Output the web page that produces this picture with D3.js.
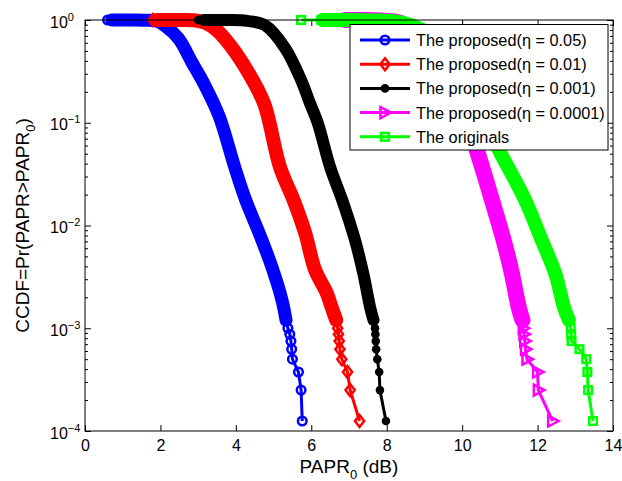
<!DOCTYPE html>
<html>
<head>
<meta charset="utf-8">
<script src="https://cdn.jsdelivr.net/npm/d3@7"></script>
<style>
body { margin: 0; background: #fff; }
svg { font-family: "Liberation Sans", Arial, sans-serif; }
</style>
</head>
<body>
<div id="chart"></div>
<script>
// axis ticks
const xTicks = [0, 2, 4, 6, 8, 10, 12, 14];
const yTicks = [1e-4, 1e-3, 1e-2, 1e-1, 1];
const yTickExp = ["\u22124", "\u22123", "\u22122", "\u22121", "0"];

// CCDF levels of the sparse tail (k / 8000, k = 8..1)
const tailP = [1e-3, 8.75e-4, 7.5e-4, 6.25e-4, 5e-4, 3.75e-4, 2.5e-4, 1.25e-4];

// eta = 0.05
const blueHeadX = [0.6], blueHeadP = [1];
const blueX = [0.71, 1.2, 1.6, 1.9, 2.12, 2.48, 2.83, 3.18, 3.56, 3.97, 4.26, 4.62, 4.95, 5.22, 5.33];
const blueP = [1, 1, 0.995, 0.975, 0.88, 0.66, 0.39, 0.23, 0.115, 0.037, 0.0177, 0.0084, 0.004, 0.0019, 0.0012];
const blueTailX = [5.38, 5.43, 5.46, 5.48, 5.50, 5.66, 5.73, 5.76];

// eta = 0.01
const redHeadX = [1.8], redHeadP = [1];
const redX = [1.9, 2.5, 3.0, 3.3, 3.54, 3.98, 4.42, 4.76, 5.17, 5.53, 5.84, 6.1, 6.41, 6.54, 6.66];
const redP = [1, 1, 0.98, 0.9, 0.77, 0.49, 0.27, 0.15, 0.037, 0.0177, 0.0084, 0.0037, 0.0022, 0.0016, 0.0012];
const redTailX = [6.70, 6.72, 6.74, 6.76, 6.81, 6.96, 7.03, 7.28];

// eta = 0.001
const blackHeadX = [3.0], blackHeadP = [1];
const blackX = [3.15, 3.8, 4.3, 4.77, 5.31, 5.75, 5.95, 6.17, 6.5, 6.82, 7.16, 7.38, 7.56, 7.65];
const blackP = [1, 1, 0.98, 0.89, 0.53, 0.25, 0.16, 0.1, 0.037, 0.0177, 0.0072, 0.0034, 0.0016, 0.0012];
const blackTailX = [7.69, 7.70, 7.71, 7.72, 7.75, 7.80, 7.82, 7.98];

// eta = 0.0001
const magentaHeadX = [6.8], magentaHeadP = [1];
const magentaX = [6.9, 7.5, 8.0, 8.4, 9.0, 9.5, 10.0, 10.39, 10.79, 11.1, 11.32, 11.5, 11.6];
const magentaP = [1, 1, 0.98, 0.93, 0.62, 0.33, 0.14, 0.054, 0.0177, 0.0072, 0.0034, 0.0016, 0.0012];
const magentaTailX = [11.62, 11.64, 11.66, 11.68, 11.72, 12.0, 12.02, 12.4];

// originals
const greenHeadX = [5.73, 6.27], greenHeadP = [1, 1];
const greenX = [6.3, 7.0, 7.7, 8.2, 8.6, 9.2, 9.8, 10.4, 10.98, 11.67, 12.11, 12.47, 12.7, 12.83];
const greenP = [1, 1, 0.99, 0.97, 0.9, 0.7, 0.4, 0.15, 0.054, 0.0177, 0.0072, 0.0034, 0.0016, 0.0012];
const greenTailX = [12.88, 12.89, 12.9, 13.11, 13.29, 13.32, 13.34, 13.47];

const seriesNames = ["The proposed(\u03b7 = 0.05)", "The proposed(\u03b7 = 0.01)",
    "The proposed(\u03b7 = 0.001)", "The proposed(\u03b7 = 0.0001)", "The originals"];

const series = [
    { color: "#0000ff", marker: "circle", band: 13, hx: blueHeadX, hp: blueHeadP, x: blueX, p: blueP, tx: blueTailX },
    { color: "#ff0000", marker: "diamond", band: 14, hx: redHeadX, hp: redHeadP, x: redX, p: redP, tx: redTailX },
    { color: "#000000", marker: "dot", band: 12, hx: blackHeadX, hp: blackHeadP, x: blackX, p: blackP, tx: blackTailX },
    { color: "#ff00ff", marker: "triangle", band: 16, hx: magentaHeadX, hp: magentaHeadP, x: magentaX, p: magentaP, tx: magentaTailX },
    { color: "#00ff00", marker: "square", band: 14, hx: greenHeadX, hp: greenHeadP, x: greenX, p: greenP, tx: greenTailX }
];
series.forEach((s, i) => s.name = seriesNames[i]);

const width = 622, height = 481;
const mLeft = 85, mRight = 613, mTop = 20, mBottom = 431;

const svg = d3.select("#chart").append("svg")
    .attr("width", width)
    .attr("height", height);

const x = d3.scaleLinear().domain([0, 14]).range([mLeft, mRight]);
const y = d3.scaleLog().domain([1e-4, 1]).range([mBottom, mTop]);

const minorTicks = y.ticks().filter(v => Math.abs(Math.log10(v) - Math.round(Math.log10(v))) > 1e-6);

function styleAxis(g) {
    g.select(".domain").remove();
    g.selectAll(".tick line").attr("stroke", "#000").attr("stroke-width", 1);
    g.selectAll("text").attr("fill", "#000");
}

// bottom axis with labels
svg.append("g")
    .attr("transform", `translate(0,${mBottom})`)
    .call(d3.axisBottom(x).tickValues(xTicks).tickSizeInner(-6).tickSizeOuter(0).tickPadding(9).tickFormat(d3.format("d")))
    .call(styleAxis)
    .selectAll("text").attr("font-size", 16);

// top axis, ticks only
svg.append("g")
    .attr("transform", `translate(0,${mTop})`)
    .call(d3.axisTop(x).tickValues(xTicks).tickSizeInner(-6).tickSizeOuter(0).tickFormat(""))
    .call(styleAxis);

// left / right, major and minor
[["left", mLeft], ["right", mRight]].forEach(([side, pos]) => {
    const mk = side == "left" ? d3.axisLeft : d3.axisRight;
    svg.append("g")
        .attr("transform", `translate(${pos},0)`)
        .call(mk(y).tickValues(minorTicks).tickSizeInner(-3).tickSizeOuter(0).tickFormat(""))
        .call(styleAxis);
    const major = svg.append("g")
        .attr("transform", `translate(${pos},0)`)
        .call(mk(y).tickValues(yTicks).tickSizeInner(-6).tickSizeOuter(0).tickFormat(""))
        .call(styleAxis);
    if (side == "left") {
        major.selectAll(".tick").each(function (d, i) {
            const t = d3.select(this).select("text")
                .attr("x", 50 - mLeft)
                .attr("dy", null)
                .attr("y", 7)
                .attr("text-anchor", "start")
                .attr("font-size", 16);
            t.append("tspan").text("10");
            t.append("tspan").attr("dy", -7).attr("font-size", 11).text(yTickExp[i]);
        });
    }
});
svg.selectAll("g[font-family]").attr("font-family", null);

// curves: dense part as a band of overlapping markers, sparse tail as marker + line
const band = d3.line().x(d => x(d[0])).y(d => y(d[1])).curve(d3.curveCatmullRom.alpha(0.5));
const thin = d3.line().x(d => x(d[0])).y(d => y(d[1]));

function marker(g, type, color) {
    if (type == "circle") {
        g.append("circle").attr("r", 4.3).attr("fill", "none").attr("stroke", color).attr("stroke-width", 2.5);
    } else if (type == "diamond") {
        g.append("path").attr("d", "M0,-6L4.6,0L0,6L-4.6,0Z").attr("fill", "none").attr("stroke", color).attr("stroke-width", 2.5);
    } else if (type == "dot") {
        g.append("circle").attr("r", 4.3).attr("fill", color);
    } else if (type == "triangle") {
        g.append("path").attr("d", "M-4.5,-5.5L6,0L-4.5,5.5Z").attr("fill", "none").attr("stroke", color).attr("stroke-width", 2.5);
    } else if (type == "square") {
        g.append("rect").attr("x", -3.8).attr("y", -3.8).attr("width", 7.6).attr("height", 7.6)
            .attr("fill", "none").attr("stroke", color).attr("stroke-width", 2.5);
    }
}

const plot = svg.append("g");
series.forEach(s => {
    const g = plot.append("g");
    const head = s.hx.map((v, i) => [v, s.hp[i]]);
    const body = s.x.map((v, i) => [v, s.p[i]]);
    const tail = s.tx.map((v, i) => [v, tailP[i]]);
    const thinPts = head.concat([body[0]]);
    const tailPts = [body[body.length - 1]].concat(tail);

    g.append("path").attr("d", thin(thinPts))
        .attr("fill", "none").attr("stroke", s.color).attr("stroke-width", 3);
    g.append("path").attr("d", band(body))
        .attr("fill", "none").attr("stroke", s.color).attr("stroke-width", s.band)
        .attr("stroke-linejoin", "round").attr("stroke-linecap", "round");
    g.append("path").attr("d", thin(tailPts))
        .attr("fill", "none").attr("stroke", s.color).attr("stroke-width", 3).attr("stroke-linejoin", "round");

    head.concat(tail).forEach(d => {
        marker(g.append("g").attr("transform", `translate(${x(d[0])},${y(d[1])})`), s.marker, s.color);
    });
});

// frame
svg.append("rect")
    .attr("x", mLeft).attr("y", mTop)
    .attr("width", mRight - mLeft).attr("height", mBottom - mTop)
    .attr("fill", "none").attr("stroke", "#000").attr("stroke-width", 1);

// legend
const lg = svg.append("g");
lg.append("rect")
    .attr("x", 350).attr("y", 24.5).attr("width", 258).attr("height", 125.5)
    .attr("fill", "#fff").attr("stroke", "#000").attr("stroke-width", 1);
series.forEach((s, i) => {
    const ly = 40 + i * 24.2;
    lg.append("line").attr("x1", 360).attr("x2", 410).attr("y1", ly).attr("y2", ly)
        .attr("stroke", s.color).attr("stroke-width", 3);
    marker(lg.append("g").attr("transform", `translate(385,${ly})`), s.marker, s.color);
    lg.append("text").attr("x", 416).attr("y", ly + 6).attr("font-size", 16.3).text(s.name);
});

// axis labels
const xl = svg.append("text").attr("x", (mLeft + mRight) / 2).attr("y", 473)
    .attr("text-anchor", "middle").attr("font-size", 19);
xl.append("tspan").text("PAPR");
xl.append("tspan").attr("dy", 6).attr("font-size", 13).text("0");
xl.append("tspan").attr("dy", -6).text(" (dB)");

const yl = svg.append("text")
    .attr("transform", `translate(28.5,${(mTop + mBottom) / 2}) rotate(-90)`)
    .attr("text-anchor", "middle").attr("font-size", 19);
yl.append("tspan").text("CCDF=Pr(PAPR>PAPR");
yl.append("tspan").attr("dy", 6).attr("font-size", 13).text("0");
yl.append("tspan").attr("dy", -6).text(")");
</script>
</body>
</html>
